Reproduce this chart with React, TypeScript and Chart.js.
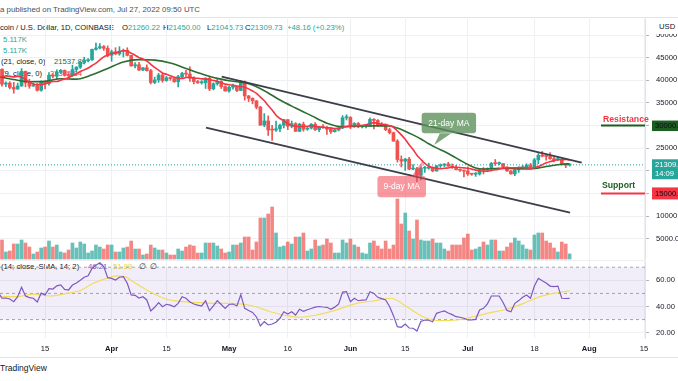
import React, { useEffect, useRef } from 'react';
import { Chart, registerables } from 'chart.js';

Chart.register(...registerables);

const FONT = '"Liberation Sans", Arial, sans-serif';
const DARK = '#131722';
const UP = '#26a69a';
const DOWN = '#ef5350';
const VOL_UP = 'rgba(38,166,154,0.7)';
const VOL_DOWN = 'rgba(239,83,80,0.7)';
const MA9_COLOR = '#f23645';
const MA21_COLOR = '#2b6d2f';
const RSI_COLOR = '#7e57c2';
const RSI_MA_COLOR = '#f3dc5a';

// Day offsets are counted from 2022-04-01; the first candle is 2022-03-03.
const FIRST_DAY = -29;

const opens = [
  43900, 42450, 39150, 39400, 38420, 38060, 38740, 41980, 39440, 38730,
  38810, 37790, 39670, 39290, 41120, 40920, 41770, 42200, 41260, 41010,
  42370, 42900, 43970, 44330, 44520, 46830, 47130, 47440, 47070, 45530,
  46300, 45830, 46420, 46610, 45510, 43180, 43440, 42270, 42770, 42150,
  39530, 40080, 41150, 39940, 40560, 40390, 39690, 40800, 41500, 41370,
  40480, 39710, 39450, 39460, 40430, 38110, 39240, 39740, 38600, 37640,
  38470, 38530, 37750, 39700, 36550, 36010, 35470, 34060, 30100, 31020,
  29030, 28990, 29280, 30080, 31300, 29860, 30420, 28720, 30300, 29200,
  29430, 30290, 29100, 29650, 29540, 29190, 28630, 29030, 29470, 31720,
  31790, 29800, 30450, 29700, 29860, 29910, 31370, 31130, 30200, 30110,
  29090, 28420, 26570, 22490, 22140, 22580, 20380, 20470, 19010, 20560,
  20570, 20720, 19970, 21090, 21230, 21500, 21030, 20730, 20250, 20100,
  19930, 19290, 19250, 19300, 20230, 20180, 20550, 21640, 21590, 21600,
  20850, 19960, 19320, 20220, 20580, 20830, 21200, 20790, 22430, 23410,
  23230, 23160, 22690, 22450, 22580, 21310, 21260.22,
];

const highs = [
  44100, 42520, 39650, 39680, 39550, 39380, 42600, 42060, 40250, 39360,
  39300, 39900, 39880, 41700, 41480, 42320, 42400, 42300, 41550, 43360,
  43010, 44200, 45100, 44800, 46920, 48200, 48100, 47700, 47600, 46700,
  47200, 47430, 46900, 47200, 45520, 43900, 43970, 42800, 43430, 42420,
  40700, 41560, 41500, 40870, 40700, 40600, 41100, 41760, 42200, 42980,
  40800, 39980, 39950, 40600, 40800, 39450, 40380, 39920, 38800, 38680,
  39150, 38650, 39950, 39850, 36650, 36130, 35500, 34250, 32650, 32150,
  30050, 31000, 30320, 31400, 31320, 31000, 30650, 30500, 30750, 29600,
  30450, 30650, 29830, 30200, 29850, 29380, 29200, 29520, 32200, 32400,
  31980, 30650, 30680, 29950, 30170, 31700, 31560, 31320, 30670, 30350,
  29440, 28560, 26880, 23300, 22750, 22980, 21360, 20760, 20800, 21000,
  21700, 20860, 21200, 21520, 21600, 21870, 21520, 21200, 20430, 20140,
  20880, 19420, 19640, 20320, 20720, 20660, 21850, 22500, 21950, 21600,
  20860, 20040, 20250, 20880, 21180, 21560, 21650, 22760, 23800, 24280,
  23430, 24000, 22990, 22980, 22650, 21340, 21450,
];

const lows = [
  41850, 38700, 38600, 38100, 37150, 38020, 38660, 38550, 38230, 38660,
  37600, 37580, 38120, 38900, 40520, 40140, 41520, 40910, 40510, 40890,
  41800, 42600, 43600, 44070, 44420, 46650, 46940, 46600, 45200, 44200,
  45650, 45530, 45150, 45380, 43120, 42740, 42110, 42130, 42000, 39200,
  39250, 39550, 39570, 39770, 40000, 39560, 38540, 40570, 40850, 39750,
  39200, 39300, 39160, 38200, 37700, 37880, 38900, 38200, 37600, 37390,
  38050, 37500, 37700, 35600, 35300, 34800, 33700, 30050, 29750, 27800,
  26700, 28700, 28630, 29500, 29100, 29500, 28700, 28680, 28750, 28950,
  29250, 28900, 28670, 29350, 28050, 28280, 28570, 28810, 29300, 31220,
  29320, 29580, 29500, 29450, 29500, 29880, 29230, 29850, 29950, 28880,
  28120, 26500, 21930, 20850, 20080, 20230, 20250, 17620, 17960, 19640,
  20350, 19770, 19890, 20720, 20920, 20980, 20520, 20200, 19840, 18620,
  18970, 19000, 18760, 19040, 19300, 19780, 20250, 21180, 21320, 20650,
  19860, 19230, 18910, 19640, 20390, 20480, 20770, 20760, 21580, 23070,
  22350, 22500, 21950, 22290, 21270, 20700, 21045.73,
];

const closes = [
  42450, 39150, 39400, 38420, 38060, 38740, 41980, 39440, 38730, 38810,
  37790, 39670, 39290, 41120, 40920, 41770, 42200, 41260, 41010, 42370,
  42900, 43970, 44330, 44520, 46830, 47130, 47440, 47070, 45530, 46300,
  45830, 46420, 46610, 45510, 43180, 43440, 42270, 42770, 42150, 39530,
  40080, 41150, 39940, 40560, 40390, 39690, 40800, 41500, 41370, 40480,
  39710, 39450, 39460, 40430, 38110, 39240, 39740, 38600, 37640, 38470,
  38530, 37750, 39700, 36550, 36010, 35470, 34060, 30100, 31020, 29030,
  28990, 29280, 30080, 31300, 29860, 30420, 28720, 30300, 29200, 29430,
  30290, 29100, 29650, 29540, 29190, 28630, 29030, 29470, 31720, 31790,
  29800, 30450, 29700, 29860, 29910, 31370, 31130, 30200, 30110, 29090,
  28420, 26570, 22490, 22140, 22580, 20380, 20470, 19010, 20560, 20570,
  20720, 19970, 21090, 21230, 21500, 21030, 20730, 20250, 20100, 19930,
  19290, 19250, 19300, 20230, 20180, 20550, 21640, 21590, 21600, 20850,
  19960, 19320, 20220, 20580, 20830, 21200, 20790, 22430, 23410, 23230,
  23160, 22690, 22450, 22580, 21310, 21260, 21309.73,
];

// volume, thousands of BTC
const volumes = [
  14, 19, 7, 8, 15, 15, 19, 16, 12, 5,
  7, 11, 12, 18, 12, 14, 7, 6, 9, 16,
  11, 17, 15, 6, 8, 14, 12, 10, 14, 14,
  7, 7, 11, 12, 18, 10, 10, 4, 5, 14,
  11, 9, 9, 6, 4, 4, 10, 8, 12, 14,
  13, 6, 6, 16, 16, 16, 13, 10, 6, 7,
  14, 14, 16, 22, 22, 9, 17, 41, 41, 45,
  52, 26, 12, 13, 17, 15, 22, 22, 26, 8,
  10, 19, 13, 14, 20, 16, 6, 6, 19, 16,
  20, 14, 12, 6, 5, 16, 18, 13, 10, 18,
  10, 14, 60, 35, 46, 28, 20, 39, 19, 18,
  18, 20, 16, 16, 10, 8, 14, 14, 14, 21,
  25, 9, 10, 12, 17, 14, 19, 19, 8, 8,
  12, 16, 21, 18, 14, 10, 9, 24, 26, 26,
  18, 16, 11, 7, 17, 15, 5.117,
];

const ma9 = [
  40630, 40839, 40956, 40866, 40747, 40860, 40726, 40172, 39597, 39192,
  39041, 39071, 39168, 39508, 39750, 39727, 40033, 40314, 40559, 41068,
  41427, 41947, 42303, 42703, 43266, 43813, 44500, 45173, 45524, 45902,
  46109, 46341, 46573, 46427, 45988, 45543, 45010, 44703, 44242, 43542,
  42838, 42231, 41612, 41321, 40982, 40696, 40477, 40404, 40609, 40653,
  40493, 40439, 40317, 40321, 40146, 39972, 39777, 39469, 39153, 39016,
  38913, 38723, 38642, 38469, 38110, 37636, 37131, 36293, 35466, 34410,
  33437, 32279, 31560, 31037, 30413, 30009, 29856, 29776, 29794, 29843,
  29956, 29847, 29663, 29628, 29491, 29481, 29340, 29370, 29624, 29791,
  29869, 29958, 29976, 30050, 30192, 30452, 30637, 30468, 30281, 30202,
  29977, 29629, 28810, 27947, 26970, 25776, 24694, 23461, 22513, 21641,
  20991, 20711, 20594, 20444, 20569, 20631, 20822, 20788, 20736, 20648,
  20572, 20368, 20153, 20012, 19918, 19898, 20052, 20218, 20403, 20577,
  20656, 20658, 20657, 20701, 20732, 20683, 20594, 20687, 20971, 21334,
  21761, 22036, 22243, 22438, 22450, 22502, 22378,
];

const ma21Days = [-29, -25, -21, -17, -13, -9, -5, -1, 3, 7, 11, 15, 19, 23, 27, 31, 35, 39, 43, 47, 51, 55, 59, 63, 67, 71, 73, 75, 77, 79, 81, 83, 85, 87, 89, 91, 93, 95, 99, 103, 107, 111, 115, 117];
const ma21Values = [40845, 40170, 39686, 39769, 40342, 40261, 41224, 42603, 44039, 44577, 44467, 43816, 42620, 41430, 40420, 39778, 39220, 37709, 35631, 33872, 32195, 30526, 29726, 29889, 29918, 29926, 29434, 28745, 27937, 27036, 25978, 25064, 24262, 23333, 22334, 21382, 20600, 20399, 20539, 20469, 20400, 20934, 21456, 21543];

const rsi = [
  51, 46.3, 46.5, 45.7, 43.7, 47.5, 54.7, 48, 46.8, 46.3,
  43.5, 50.2, 48.8, 53.6, 53.3, 55.8, 56.5, 53.1, 52.6, 56.4,
  58, 60, 62.3, 63.5, 69, 71.5, 73.4, 70.4, 62, 61.5,
  60.2, 62.3, 62.8, 57.7, 48.8, 48.5, 46.5, 47.5, 45, 36.6,
  39.4, 42.9, 39.8, 41.7, 41, 39.8, 42.4, 47.5, 46.3, 43.5,
  41.9, 41.1, 40.4, 44.4, 36.8, 40.5, 44.5, 41.5, 38.6, 41.5,
  41.9, 40.4, 49, 38.6, 37, 35.5, 32, 25.1, 28.4, 25.9,
  26.6, 28, 31, 36, 34.3, 36, 33.5, 37.9, 36.3, 37.5,
  38.5, 39.5, 40, 39.6, 39.4, 37.9, 39.5, 42, 51, 51.3,
  43.7, 46.3, 44.4, 44.8, 45, 51.3, 50, 47, 46, 45,
  40, 33, 24.6, 24.1, 26.6, 23.6, 23.4, 21.3, 28.5, 29.7,
  29.5, 28.4, 34.8, 35.8, 36.6, 35, 33.8, 32.2, 31.8, 31,
  29.7, 29.8, 30.2, 37.3, 38.6, 42, 48, 48, 48, 43,
  37, 36, 42.4, 44.5, 47, 48.8, 46.3, 55.6, 61.5, 59.7,
  58, 55.6, 55.1, 55.6, 46.3, 46.1, 46.21,
];

const rsiMaDays = [-29, -24.2, -20, -15.7, -11.5, -8.1, -4.7, -1.3, 1.3, 3.4, 5.5, 9.8, 14.1, 18.3, 22.6, 26.8, 31.1, 36.2, 40.5, 43.9, 48.1, 52.4, 56.6, 62.6, 66.8, 71.1, 72.4, 75.4, 79.6, 83.9, 88.1, 92.4, 96.7, 100.9, 105.2, 109.4, 112.8, 117];
const rsiMaValues = [47.5, 47.5, 49.5, 48, 50, 52, 57.7, 61.5, 63.3, 62.8, 58.9, 51.3, 45.5, 43.7, 42.9, 42.4, 42.4, 40.4, 36, 33.5, 31.8, 33.5, 36.6, 42.4, 44.2, 46.3, 45.5, 39.8, 32.2, 29.2, 29.7, 32.2, 35.3, 37.9, 42.4, 47.5, 50, 51.99];

const timeTickDays = [-17, 0, 14, 30, 45, 61, 75, 91, 108, 122, 136];
const timeTickLabels = ['15', 'Apr', '15', 'May', '16', 'Jun', '15', 'Jul', '18', 'Aug', '15'];
const timeTickIsMonth = [false, true, false, true, false, true, false, true, false, true, false];

const priceTicks = [5000, 10000, 15000, 20000, 25000, 30000, 35000, 40000, 45000, 50000];
const rsiTicks = [20, 40, 60];
const rsiLevels = [70, 50, 30];

// trend channel, [day, price]
const channelUpper = [[28.12, 40796], [120.08, 21790]];
const channelLower = [[24.11, 29525], [117.1, 10740]];

const resistanceLevel = 30000;
const supportLevel = 15000;
const levelStartDay = 125;

const calloutTexts = ['21-day MA', '9-day MA'];
// [leftDay, topPrice, rightDay, bottomPrice]
const calloutBoxes = [[79.2, 32840, 93.1, 28287], [67.9, 18851, 80.3, 14144]];
const calloutTips = [[82.4, 25700], [79.6, 22387]];
const calloutColors = ['rgba(94,145,94,0.8)', 'rgba(242,70,85,0.55)'];

// axis ranges
const X_MIN = -28.51;
const X_MAX = 136.25;
const PRICE_MIN = 287;
const PRICE_MAX = 53989;
const VOL_MIN = -1;
const VOL_MAX = 242;
const RSI_MIN = 15.95;
const RSI_MAX = 74.73;

const days = closes.map((_, i) => FIRST_DAY + i);
const lastClose = closes[closes.length - 1];
const isUp = closes.map((c, i) => c >= opens[i]);

const GRID = '#eef0f4';
const TEXT_SIZE = 7.7;

function zeroPad(scale: any) {
  scale.paddingTop = 0;
  scale.paddingBottom = 0;
  scale.paddingLeft = 0;
  scale.paddingRight = 0;
}

function roundRect(ctx: CanvasRenderingContext2D, x: number, y: number, w: number, h: number, r: number) {
  ctx.moveTo(x + r, y);
  ctx.lineTo(x + w - r, y);
  ctx.arcTo(x + w, y, x + w, y + r, r);
  ctx.lineTo(x + w, y + h - r);
  ctx.arcTo(x + w, y + h, x + w - r, y + h, r);
  ctx.lineTo(x + r, y + h);
  ctx.arcTo(x, y + h, x, y + h - r, r);
  ctx.lineTo(x, y + r);
  ctx.arcTo(x, y, x + r, y, r);
  ctx.closePath();
}

const priceOverlay = {
  id: 'priceOverlay',
  afterDatasetsDraw(chart: any) {
    const { ctx, scales } = chart;
    const xs = scales.x;
    const ys = scales.y;
    calloutTexts.forEach((text, i) => {
      const [l, t, r, b] = calloutBoxes[i];
      const x1 = xs.getPixelForValue(l);
      const x2 = xs.getPixelForValue(r);
      const y1 = ys.getPixelForValue(t);
      const y2 = ys.getPixelForValue(b);
      const tx = xs.getPixelForValue(calloutTips[i][0]);
      const ty = ys.getPixelForValue(calloutTips[i][1]);
      const w = x2 - x1;
      ctx.save();
      ctx.fillStyle = calloutColors[i];
      ctx.beginPath();
      roundRect(ctx, x1, y1, w, y2 - y1, 3);
      if (i === 0) {
        ctx.moveTo(x1 + 0.34 * w, y2 - 0.5);
        ctx.lineTo(tx, ty);
        ctx.lineTo(x1 + 0.56 * w, y2 - 0.5);
        ctx.closePath();
      } else {
        ctx.moveTo(x1 + 0.7 * w, y1 + 0.5);
        ctx.lineTo(tx, ty);
        ctx.lineTo(x1 + 0.9 * w, y1 + 0.5);
        ctx.closePath();
      }
      ctx.fill();
      ctx.fillStyle = '#ffffff';
      ctx.font = `8.5px ${FONT}`;
      ctx.textAlign = 'center';
      ctx.textBaseline = 'middle';
      ctx.fillText(text, (x1 + x2) / 2, (y1 + y2) / 2 + 0.5);
      ctx.restore();
    });
    ctx.save();
    ctx.font = `bold 8.7px ${FONT}`;
    ctx.textAlign = 'left';
    ctx.textBaseline = 'middle';
    ctx.fillStyle = '#f23645';
    ctx.fillText('Resistance', xs.getPixelForValue(levelStartDay) + 2, ys.getPixelForValue(resistanceLevel) - 6);
    ctx.fillStyle = '#1b5e20';
    ctx.fillText('Support', xs.getPixelForValue(levelStartDay) + 1, ys.getPixelForValue(supportLevel) - 8);
    ctx.restore();
  },
  afterDraw(chart: any) {
    const { ctx, scales, chartArea } = chart;
    const ys = scales.y;
    const bx = chartArea.right + 7;
    const bw = chart.width - bx;
    ctx.save();
    ctx.font = `7.6px ${FONT}`;
    ctx.textAlign = 'left';
    ctx.textBaseline = 'middle';
    let y = ys.getPixelForValue(resistanceLevel);
    ctx.fillStyle = '#1b5e20';
    ctx.fillRect(bx, y - 5, bw, 10.5);
    ctx.fillStyle = '#0b0d12';
    ctx.fillText('30000.00', bx + 3, y + 0.5);
    y = ys.getPixelForValue(supportLevel);
    ctx.fillStyle = '#f23645';
    ctx.fillRect(bx, y - 6, bw, 12);
    ctx.fillStyle = '#0b0d12';
    ctx.fillText('15000.00', bx + 3, y);
    y = ys.getPixelForValue(lastClose);
    ctx.fillStyle = UP;
    ctx.fillRect(bx, y - 5.6, bw, 20);
    ctx.fillStyle = '#ffffff';
    ctx.fillText('21309.73', bx + 3, y);
    ctx.fillText('14:09', bx + 3, y + 9.5);
    ctx.restore();
  },
};

function linePts(a: number[][]) {
  return a.map(([x, y]) => ({ x, y }));
}

function priceConfig(): any {
  const candleColors = isUp.map((u) => (u ? UP : DOWN));
  return {
    type: 'bar',
    data: {
      datasets: [
        {
          type: 'bar',
          yAxisID: 'yv',
          data: days.map((d, i) => ({ x: d, y: volumes[i] })),
          backgroundColor: isUp.map((u) => (u ? VOL_UP : VOL_DOWN)),
          barThickness: 3,
          grouped: false,
          borderWidth: 0,
          order: 10,
        },
        {
          type: 'bar',
          yAxisID: 'y',
          data: days.map((d, i) => ({ x: d, y: [lows[i], highs[i]] })),
          backgroundColor: candleColors,
          barThickness: 1,
          grouped: false,
          borderWidth: 0,
          order: 9,
        },
        {
          type: 'bar',
          yAxisID: 'y',
          data: days.map((d, i) => ({ x: d, y: [opens[i], closes[i]] })),
          backgroundColor: candleColors,
          barThickness: 3,
          minBarLength: 1,
          grouped: false,
          borderWidth: 0,
          order: 8,
        },
        {
          type: 'line',
          yAxisID: 'y',
          data: [{ x: X_MIN, y: lastClose }, { x: X_MAX, y: lastClose }],
          borderColor: UP,
          borderWidth: 1,
          borderDash: [1, 2],
          pointRadius: 0,
          order: 7,
        },
        {
          type: 'line',
          yAxisID: 'y',
          data: ma21Days.map((d, i) => ({ x: d, y: ma21Values[i] })),
          borderColor: MA21_COLOR,
          borderWidth: 1.6,
          pointRadius: 0,
          cubicInterpolationMode: 'monotone',
          order: 6,
        },
        {
          type: 'line',
          yAxisID: 'y',
          data: days.map((d, i) => ({ x: d, y: ma9[i] })),
          borderColor: MA9_COLOR,
          borderWidth: 1.6,
          pointRadius: 0,
          cubicInterpolationMode: 'monotone',
          order: 5,
        },
        {
          type: 'line',
          yAxisID: 'y',
          data: linePts(channelUpper),
          borderColor: '#3c3f49',
          borderWidth: 1.8,
          pointRadius: 0,
          order: 4,
        },
        {
          type: 'line',
          yAxisID: 'y',
          data: linePts(channelLower),
          borderColor: '#3c3f49',
          borderWidth: 1.8,
          pointRadius: 0,
          order: 4,
        },
        {
          type: 'line',
          yAxisID: 'y',
          data: [{ x: levelStartDay, y: resistanceLevel }, { x: X_MAX, y: resistanceLevel }],
          borderColor: '#1b5e20',
          borderWidth: 2,
          pointRadius: 0,
          order: 3,
        },
        {
          type: 'line',
          yAxisID: 'y',
          data: [{ x: levelStartDay, y: supportLevel }, { x: X_MAX, y: supportLevel }],
          borderColor: '#f23645',
          borderWidth: 2,
          pointRadius: 0,
          order: 3,
        },
      ],
    },
    options: {
      responsive: false,
      animation: false,
      devicePixelRatio: 1,
      events: [],
      layout: { padding: 0 },
      plugins: { legend: { display: false }, tooltip: { enabled: false } },
      scales: {
        x: {
          type: 'linear',
          min: X_MIN,
          max: X_MAX,
          offset: false,
          position: 'bottom',
          afterBuildTicks: (s: any) => {
            s.ticks = timeTickDays.map((v) => ({ value: v }));
          },
          afterFit: (s: any) => {
            s.height = 0;
            zeroPad(s);
          },
          ticks: { display: false },
          grid: { color: GRID, drawTicks: false, offset: false },
          border: { display: false },
        },
        y: {
          type: 'linear',
          position: 'right',
          min: PRICE_MIN,
          max: PRICE_MAX,
          afterBuildTicks: (s: any) => {
            s.ticks = priceTicks.map((v) => ({ value: v }));
          },
          afterFit: (s: any) => {
            s.width = 33;
            zeroPad(s);
          },
          ticks: {
            padding: 7,
            color: DARK,
            font: { family: FONT, size: 7.6 },
            callback: (v: number) => (v === 5000 ? '5000.00' : String(v)),
          },
          grid: { color: GRID, tickLength: 4, tickColor: '#b2b5be' },
          border: { display: true, color: '#e0e3eb' },
        },
        yv: {
          type: 'linear',
          display: false,
          min: VOL_MIN,
          max: VOL_MAX,
        },
      },
    },
    plugins: [priceOverlay],
  };
}

function rsiConfig(): any {
  const flat = (v: number) => [{ x: X_MIN, y: v }, { x: X_MAX, y: v }];
  return {
    type: 'line',
    data: {
      datasets: [
        {
          data: flat(rsiLevels[0]),
          borderColor: '#a3a6af',
          borderWidth: 1,
          borderDash: [3, 3],
          pointRadius: 0,
          fill: { value: rsiLevels[2] },
          backgroundColor: 'rgba(126,87,194,0.1)',
          order: 5,
        },
        {
          data: flat(rsiLevels[1]),
          borderColor: '#a3a6af',
          borderWidth: 1,
          borderDash: [3, 3],
          pointRadius: 0,
          fill: false,
          order: 5,
        },
        {
          data: flat(rsiLevels[2]),
          borderColor: '#a3a6af',
          borderWidth: 1,
          borderDash: [3, 3],
          pointRadius: 0,
          fill: false,
          order: 5,
        },
        {
          data: rsiMaDays.map((d, i) => ({ x: d, y: rsiMaValues[i] })),
          borderColor: RSI_MA_COLOR,
          borderWidth: 1.2,
          pointRadius: 0,
          cubicInterpolationMode: 'monotone',
          fill: false,
          order: 2,
        },
        {
          data: days.map((d, i) => ({ x: d, y: rsi[i] })),
          borderColor: RSI_COLOR,
          borderWidth: 1.2,
          pointRadius: 0,
          tension: 0,
          fill: false,
          order: 1,
        },
      ],
    },
    options: {
      responsive: false,
      animation: false,
      devicePixelRatio: 1,
      events: [],
      layout: { padding: { top: 1, left: 0, right: 0, bottom: 0 } },
      plugins: { legend: { display: false }, tooltip: { enabled: false } },
      scales: {
        x: {
          type: 'linear',
          min: X_MIN,
          max: X_MAX,
          offset: false,
          position: 'bottom',
          afterBuildTicks: (s: any) => {
            s.ticks = timeTickDays.map((v) => ({ value: v }));
          },
          afterFit: (s: any) => {
            s.height = 19;
            zeroPad(s);
          },
          ticks: {
            autoSkip: false,
            maxRotation: 0,
            padding: 6.5,
            color: DARK,
            font: (ctx: any) => {
              const idx = timeTickDays.indexOf(ctx.tick ? ctx.tick.value : NaN);
              return { family: FONT, size: 7.6, weight: idx >= 0 && timeTickIsMonth[idx] ? 'bold' : 'normal' };
            },
            callback: (v: number) => {
              const idx = timeTickDays.indexOf(v);
              return idx >= 0 ? timeTickLabels[idx] : '';
            },
          },
          grid: { color: GRID, drawTicks: false, offset: false },
          border: { display: false },
        },
        y: {
          type: 'linear',
          position: 'right',
          min: RSI_MIN,
          max: RSI_MAX,
          afterBuildTicks: (s: any) => {
            s.ticks = rsiTicks.map((v) => ({ value: v }));
          },
          afterFit: (s: any) => {
            s.width = 33;
            zeroPad(s);
          },
          ticks: {
            padding: 7,
            color: DARK,
            font: { family: FONT, size: 7.6 },
            callback: (v: number) => v.toFixed(2),
          },
          grid: { color: GRID, tickLength: 4, tickColor: '#b2b5be' },
          border: { display: true, color: '#e0e3eb' },
        },
      },
    },
  };
}

function Txt(props: { x: number; y: number; color?: string; size?: number; weight?: any; children: any }) {
  return (
    <div
      style={{
        position: 'absolute',
        left: props.x,
        top: props.y - 6,
        height: 12,
        lineHeight: '12px',
        fontSize: props.size ?? TEXT_SIZE,
        color: props.color ?? DARK,
        fontWeight: props.weight ?? 'normal',
        whiteSpace: 'nowrap',
      }}
    >
      {props.children}
    </div>
  );
}

export default function App() {
  const priceRef = useRef<HTMLCanvasElement>(null);
  const rsiRef = useRef<HTMLCanvasElement>(null);

  useEffect(() => {
    Chart.defaults.font.family = FONT;
    const c1 = new Chart(priceRef.current as HTMLCanvasElement, priceConfig());
    const c2 = new Chart(rsiRef.current as HTMLCanvasElement, rsiConfig());
    return () => {
      c1.destroy();
      c2.destroy();
    };
  }, []);

  return (
    <div
      style={{
        position: 'absolute',
        left: 0,
        top: 0,
        width: 678,
        height: 381,
        overflow: 'hidden',
        background: '#ffffff',
        fontFamily: FONT,
      }}
    >
      <Txt x={0} y={10} size={7.85} color="#4a4f5b">a published on TradingView.com, Jul 27, 2022 09:50 UTC</Txt>
      <div style={{ position: 'absolute', left: 0, top: 17, width: 678, height: 1, background: '#e0e3eb' }} />

      <Txt x={0} y={28} size={7.6}>coin / U.S. Dollar, 1D, COINBASE</Txt>
      <Txt x={122} y={28}>O<span style={{ color: UP }}>21260.22</span></Txt>
      <Txt x={163} y={28}>H<span style={{ color: UP }}>21450.00</span></Txt>
      <Txt x={207} y={28}>L<span style={{ color: UP }}>21045.73</span></Txt>
      <Txt x={245} y={28}>C<span style={{ color: UP }}>21309.73</span></Txt>
      <Txt x={287} y={28} color={UP}>+48.16 (+0.23%)</Txt>

      <Txt x={3} y={40} color={UP}>5.117K</Txt>
      <Txt x={3} y={51} color={UP}>5.117K</Txt>
      <Txt x={1} y={62}>(21, close, 0)</Txt>
      <Txt x={54} y={62} color={MA21_COLOR}>21537.89</Txt>
      <Txt x={2} y={73.5}>(9, close, 0)</Txt>
      <Txt x={50} y={73.5} color={MA9_COLOR}>22385.84</Txt>

      <div style={{ position: 'absolute', left: 0, top: 260, width: 645, height: 1, background: '#eceef2' }} />
      <Txt x={1} y={267}>(14; close, SMA, 14; 2)</Txt>
      <Txt x={88} y={267} color={RSI_COLOR}>46.21</Txt>
      <Txt x={113} y={267} color="#e8cf3a">51.99</Txt>
      <Txt x={139} y={267}>∅</Txt>
      <Txt x={150} y={267}>∅</Txt>

      <canvas ref={priceRef} width={678} height={243} style={{ position: 'absolute', left: 0, top: 17, width: 678, height: 243 }} />
      <canvas ref={rsiRef} width={678} height={97} style={{ position: 'absolute', left: 0, top: 260, width: 678, height: 97 }} />

      <div
        style={{
          position: 'absolute',
          left: 646,
          top: 18,
          width: 32,
          height: 16,
          background: '#ffffff',
        }}
      />
      <Txt x={659} y={26.5}>USD</Txt>

      <div style={{ position: 'absolute', left: 0, top: 357, width: 678, height: 1, background: '#e0e3eb' }} />
      <Txt x={0} y={368} size={8.5}>TradingView</Txt>
    </div>
  );
}
